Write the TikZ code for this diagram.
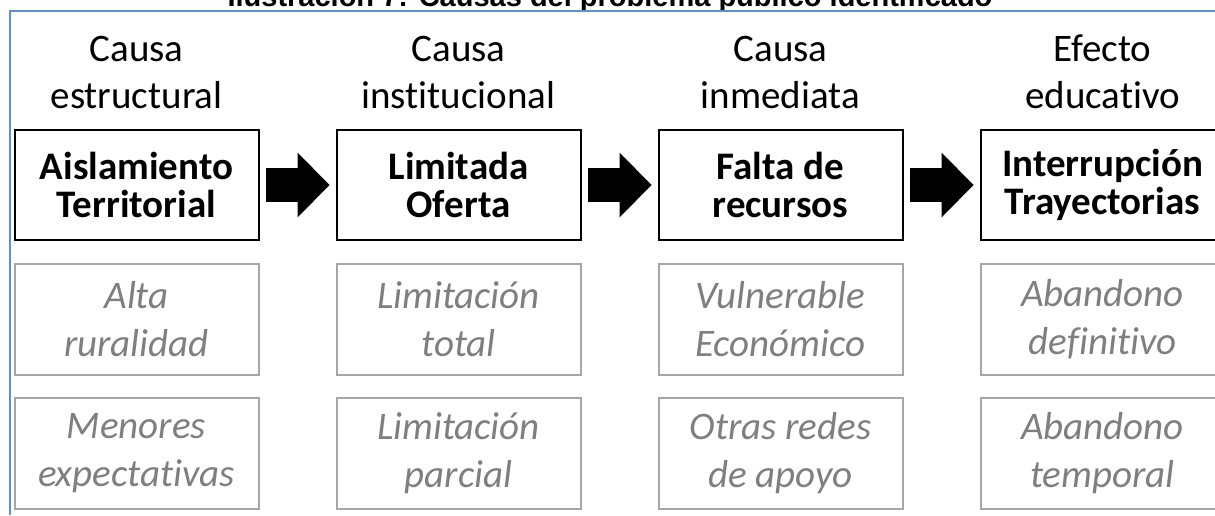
\documentclass[tikz,border=0pt]{standalone}
\usepackage{fontspec}
\setmainfont{Carlito}[Ligatures={NoCommon}]
\newfontfamily\arialfont{Liberation Sans}
\usepackage{tikz}
\usetikzlibrary{positioning, arrows.meta}
\definecolor{azulmarco}{RGB}{95,145,210}
\definecolor{grisborde}{RGB}{166,166,166}
\definecolor{gristexto}{RGB}{127,127,127}
\tikzstyle{ilus}=[inner sep=0pt, font=\arialfont\fontsize{14.5}{17}\selectfont\bfseries]
\tikzstyle{marco}=[draw=azulmarco, line width=1pt]
\tikzstyle{encabezado}=[inner sep=0pt, align=center, font=\fontsize{19.5}{23.5}\selectfont]
\tikzstyle{causa}=[rectangle, draw=black, line width=1pt, minimum width=122pt, minimum height=55pt, inner sep=0pt, align=center, font=\fontsize{19.5}{19}\selectfont\bfseries]
\tikzstyle{detalle}=[rectangle, draw=grisborde, line width=1pt, minimum width=122pt, minimum height=55.5pt, inner sep=0pt, align=center, text=gristexto, font=\fontsize{19.5}{24}\selectfont\itshape]
\tikzstyle{flecha}=[line width=17pt, -{Triangle[length=16pt, width=32.5pt, line width=0pt]}, shorten <=3pt, shorten >=3pt]

\begin{document}
\begin{tikzpicture}[auto, node distance=38pt]
    % Marco
    \useasboundingbox (0,0) rectangle (607.5pt,-257.5pt);
    \node[ilus, anchor=base] (ilustracion) at (305pt,-3pt) {Ilustración 7: Causas del problema público identificado};
    \draw[marco] (5pt,-257.5pt) -- (5pt,-5.5pt) -- (607.5pt,-5.5pt);

    % Causas
    \node[causa] (aislamiento) at (68.25pt,-92.5pt) {Aislamiento\\Territorial};
    \node[causa, right=of aislamiento] (oferta) {Limitada\\Oferta};
    \node[causa, right=of oferta] (recursos) {Falta de\\recursos};
    \node[causa, right=of recursos] (interrupcion) {Interrupción\\Trayectorias};

    % Encabezados
    \node[encabezado, above=10pt of aislamiento] (estructural) {Causa\\estructural};
    \node[encabezado, above=10pt of oferta] (institucional) {Causa\\institucional};
    \node[encabezado, above=10pt of recursos] (inmediata) {Causa\\inmediata};
    \node[encabezado, above=10pt of interrupcion] (educativo) {Efecto\\educativo};

    % Detalles
    \node[detalle, below=11pt of aislamiento] (ruralidad) {Alta\\ruralidad};
    \node[detalle, below=10.5pt of ruralidad] (expectativas) {Menores\\expectativas};
    \node[detalle, below=11pt of oferta] (total) {Limitación\\total};
    \node[detalle, below=10.5pt of total] (parcial) {Limitación\\parcial};
    \node[detalle, below=11pt of recursos] (economico) {Vulnerable\\Económico};
    \node[detalle, below=10.5pt of economico] (redes) {Otras redes\\de apoyo};
    \node[detalle, below=11pt of interrupcion] (definitivo) {Abandono\\definitivo};
    \node[detalle, below=10.5pt of definitivo] (temporal) {Abandono\\temporal};

    % Flechas
    \draw[flecha] (aislamiento) -- (oferta);
    \draw[flecha] (oferta) -- (recursos);
    \draw[flecha] (recursos) -- (interrupcion);
\end{tikzpicture}
\end{document}
